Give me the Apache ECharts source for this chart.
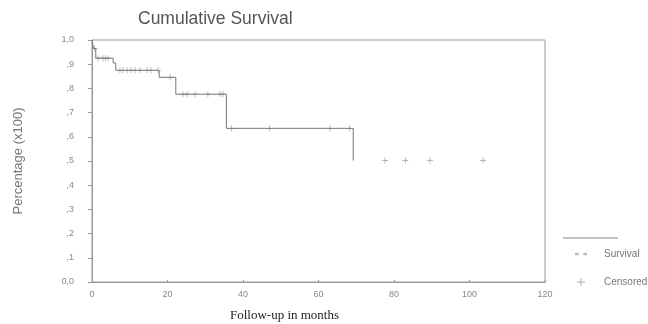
<!DOCTYPE html>
<html lang="en">
<head>
    <meta charset="UTF-8">
    <script src="https://cdn.jsdelivr.net/npm/echarts@6/dist/echarts.min.js"></script>
    <title>Cumulative Survival</title>
    <style>
        html, body { margin: 0; padding: 0; background: #fff; }
        #container { width: 648px; height: 324px; }
    </style>
</head>
<body>
<div id="container"></div>
<script type="application/javascript">
    // Kaplan-Meier step points (time in months, cumulative survival after the event)
    const eventTimes = [0, 0.4, 1.0, 5.6, 6.3, 17.8, 22.2, 35.6, 69.2];
    const eventSurvival = [1.0, 0.965, 0.925, 0.905, 0.875, 0.846, 0.776, 0.635, 0.502];

    // censored observations
    const censorTimes = [0.7, 1.6, 2.9, 3.6, 4.3,
        7.4, 8.2, 9.3, 10.3, 11.4, 12.7, 14.6, 15.6, 17.5,
        20.7,
        24.1, 25.2, 27.3, 30.7, 33.9, 34.7,
        37.0, 47.0, 63.0, 68.2,
        77.6, 83.0, 89.5, 103.6];
    const censorSurvival = [0.965, 0.925, 0.925, 0.925, 0.925,
        0.875, 0.875, 0.875, 0.875, 0.875, 0.875, 0.875, 0.875, 0.875,
        0.846,
        0.776, 0.776, 0.776, 0.776, 0.776, 0.776,
        0.635, 0.635, 0.635, 0.635,
        0.502, 0.502, 0.502, 0.502];

    const plus = 'path://M0,4.4h10v1.2h-10z M4.4,0h1.2v10h-1.2z';
    const dots = 'path://M0,4h3v2h-3z M7,4h3v2h-3z';

    const chart = echarts.init(document.getElementById('container'), null, {renderer: 'canvas'});

    let stepData = [];
    for (let i = 0; i < eventTimes.length; i++) {
        stepData.push([eventTimes[i], eventSurvival[i]]);
    }
    let censorData = [];
    for (let i = 0; i < censorTimes.length; i++) {
        censorData.push([censorTimes[i], censorSurvival[i]]);
    }

    const option = {
        backgroundColor: '#fff',
        animation: false,
        textStyle: {fontFamily: 'Liberation Sans, Arial, sans-serif'},
        title: {
            text: 'Cumulative Survival',
            left: 133,
            top: 5,
            textStyle: {fontSize: 17.5, fontWeight: 'normal', color: '#555'}
        },
        grid: {
            left: 92, right: 103, top: 40, bottom: 42,
            outerBoundsMode: 'none',
            show: true, borderColor: '#999', borderWidth: 1
        },
        legend: {
            orient: 'vertical',
            left: 570,
            top: 244,
            itemGap: 18,
            itemWidth: 12,
            itemHeight: 8,
            textStyle: {fontSize: 10, color: '#777', padding: [0, 0, 0, 12]},
            data: [
                {name: 'Survival', icon: dots, itemStyle: {color: '#bbb'}},
                {name: 'Censored', icon: plus, itemStyle: {color: '#999'}}
            ]
        },
        graphic: [{
            type: 'line',
            shape: {x1: 563, y1: 238, x2: 618, y2: 238},
            style: {stroke: '#888', lineWidth: 1}
        }],
        xAxis: {
            type: 'value',
            min: 0, max: 120, interval: 20,
            name: 'Follow-up in months',
            nameLocation: 'middle',
            nameGap: 27,
            nameTextStyle: {
                fontFamily: 'Liberation Serif, Times New Roman, serif',
                fontSize: 13, color: '#222', padding: [0, 68, 0, 0]
            },
            splitLine: {show: false},
            axisLine: {lineStyle: {color: '#999'}},
            axisTick: {inside: true, length: 2, lineStyle: {color: '#999'}},
            axisLabel: {fontSize: 9, color: '#888', margin: 8}
        },
        yAxis: {
            type: 'value',
            min: 0, max: 1, interval: 0.1,
            name: 'Percentage (x100)',
            nameLocation: 'middle',
            nameGap: 67,
            nameTextStyle: {fontSize: 13, color: '#777'},
            splitLine: {show: false},
            axisLine: {show: true, lineStyle: {color: '#999'}},
            axisTick: {show: true, length: 4, lineStyle: {color: '#999'}},
            axisLabel: {
                fontSize: 9, color: '#888', margin: 18,
                formatter: function (v) {
                    let s = v.toFixed(1).replace('.', ',');
                    if (v > 0 && v < 1) s = s.substring(1);
                    return s;
                }
            }
        },
        series: [
            {
                name: 'Survival',
                type: 'line',
                step: 'end',
                symbol: 'none',
                lineStyle: {color: '#777', width: 1},
                data: stepData
            },
            {
                name: 'Censored',
                type: 'scatter',
                symbol: plus,
                symbolSize: 6,
                itemStyle: {color: '#888'},
                data: censorData
            }
        ]
    };
    chart.setOption(option);
</script>
</body>
</html>
